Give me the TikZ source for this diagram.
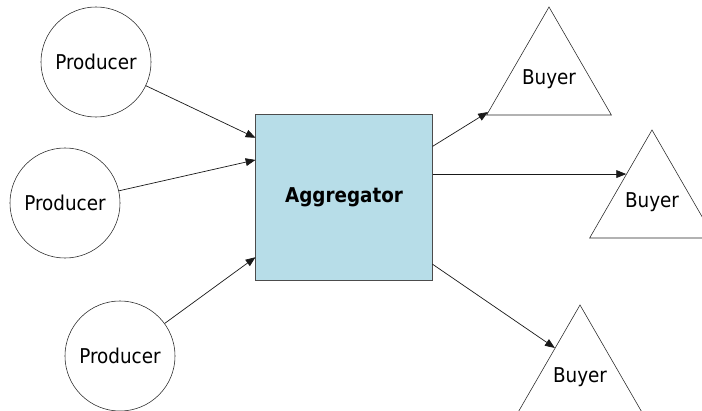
\documentclass[tikz,border=0pt]{standalone}
\usepackage{fontspec}
\setmainfont{DejaVu Sans Condensed}
\usetikzlibrary{shapes.geometric,arrows.meta,calc}
\definecolor{aggblue}{RGB}{183,221,232}
\begin{document}
\begin{tikzpicture}[x=0.025cm,y=0.025cm,
  producer/.style={draw=black!85,circle,minimum size=2.75cm,inner sep=0pt,font=\fontsize{14.5}{16}\selectfont},
  buyer/.style={draw=black!85,regular polygon,regular polygon sides=3,minimum size=3.6cm,inner sep=0pt,font=\fontsize{14.5}{16}\selectfont},
  link/.style={draw=black!90,line width=0.5pt,-{Triangle[length=7pt,width=5.5pt]}}]
\useasboundingbox (0,0) rectangle (702,410);

\node[producer] (p1) at (96,348) {Producer};
\node[producer] (p2) at (65,207) {Producer};
\node[producer] (p3) at (120,54) {Producer};

\node[draw=black!70,fill=aggblue,line width=0.7pt,minimum width=4.4cm,minimum height=4.125cm,
  font=\bfseries\fontsize{14.5}{16}\selectfont] (agg) at (344,212.5) {Aggregator};

% zero-width labels so the triangles keep their size
\node[buyer] (b1) at (549,331) {\makebox[0pt]{Buyer}};
\node[buyer] (b2) at (652,208) {\makebox[0pt]{Buyer}};
\node[buyer] (b3) at (580,33) {\makebox[0pt]{Buyer}};

\coordinate (b1in) at ($(b1.corner 1)!0.97!(b1.corner 2)$);
\coordinate (b2in) at ($(b2.corner 1)!0.41!(b2.corner 2)$);
\coordinate (b3in) at ($(b3.corner 1)!0.40!(b3.corner 2)$);

\draw[link] (p1) -- (agg.146);
\draw[link] (p2) -- (agg.157);
\draw[link] (p3) -- (agg.214);

\draw[link] (agg.30) -- (b1in);
\draw[link] (agg.east |- b2in) -- (b2in);
\draw[link] (agg.323) -- (b3in);
\end{tikzpicture}
\end{document}
